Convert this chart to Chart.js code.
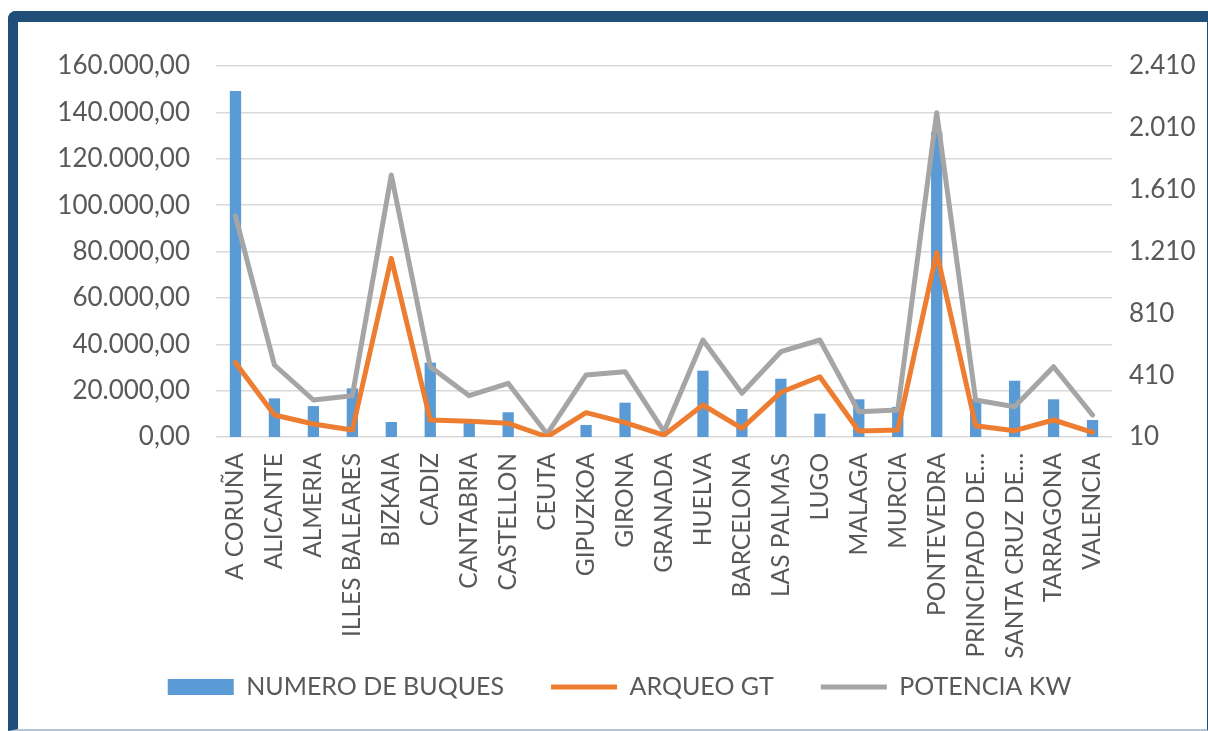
<!DOCTYPE html>
<html>
<head>
<meta charset="utf-8">
<script src="https://cdn.jsdelivr.net/npm/chart.js@4.4.1/dist/chart.umd.min.js"></script>
<style>
    html, body { margin: 0; padding: 0; background: #fff; overflow: hidden; }
    body { width: 1208px; height: 731px; position: relative; }
    #marco {
        position: absolute; left: 8px; top: 11px; width: 1200px; height: 720px;
        box-sizing: border-box;
        border-top: 11px solid #1f4e79; border-left: 10px solid #1f4e79;
        border-right: 1px solid #1f4e79; border-bottom: 2px solid #b4c5d8;
        border-top-left-radius: 8px;
    }
    #myChart { position: absolute; left: 18px; top: 22px; }
</style>
</head>
<body>
<div id="marco"></div>
<canvas id="myChart" width="1203" height="737"></canvas>
<script>
// provincias
var provincias = ['A CORUÑA', 'ALICANTE', 'ALMERIA', 'ILLES BALEARES', 'BIZKAIA', 'CADIZ', 'CANTABRIA',
    'CASTELLON', 'CEUTA', 'GIPUZKOA', 'GIRONA', 'GRANADA', 'HUELVA', 'BARCELONA', 'LAS PALMAS', 'LUGO',
    'MALAGA', 'MURCIA', 'PONTEVEDRA', 'PRINCIPADO DE…', 'SANTA CRUZ DE…', 'TARRAGONA', 'VALENCIA'];

// eje derecho
var numeroBuques = [2248, 260, 210, 325, 107, 491, 125, 170, 10, 88, 232, 10, 439, 191, 387, 161,
    254, 205, 1983, 255, 374, 254, 120];

// eje izquierdo
var arqueoGT = [32050, 9490, 5600, 3000, 77060, 7330, 6760, 5900, 100, 10480, 6170, 800, 13800, 3750,
    19280, 26000, 2590, 3020, 79500, 4870, 2720, 7330, 2030];
var potenciaKW = [95300, 31050, 15960, 17810, 113000, 30320, 17810, 23160, 1300, 26740, 28160, 2300,
    41830, 18850, 36790, 41830, 10910, 11640, 139860, 15960, 13070, 30320, 9490];

var ticksIzq = { min: 0, max: 160000, step: 20000 };
var ticksDer = { min: 10, max: 2410, step: 400 };

function puntos(n) {
    return String(Math.round(n)).replace(/\B(?=(\d{3})+(?!\d))/g, '.');
}

var gris = '#595959';
var fuente = 'Lato, "Open Sans", sans-serif';

// que no se corten las etiquetas largas del eje x
var sinRecorte = {
    id: 'sinRecorte',
    beforeDraw: function (chart) {
        chart.scales.x._computeLabelArea = function () { return undefined; };
    }
};

var ctx = document.getElementById('myChart').getContext('2d');
var myChart = new Chart(ctx, {
    type: 'bar',
    data: {
        labels: provincias,
        datasets: [{
            label: 'NUMERO DE BUQUES',
            data: numeroBuques,
            yAxisID: 'y1',
            backgroundColor: '#5b9bd5',
            borderWidth: 0,
            barPercentage: 0.29,
            categoryPercentage: 1,
            pointStyle: 'rect',
            order: 3
        }, {
            type: 'line',
            label: 'ARQUEO GT',
            data: arqueoGT,
            yAxisID: 'y',
            borderColor: '#ed7d31',
            backgroundColor: '#ed7d31',
            borderWidth: 5,
            borderJoinStyle: 'round',
            borderCapStyle: 'round',
            pointRadius: 0,
            pointStyle: 'line',
            tension: 0,
            order: 1
        }, {
            type: 'line',
            label: 'POTENCIA KW',
            data: potenciaKW,
            yAxisID: 'y',
            borderColor: '#a5a5a5',
            backgroundColor: '#a5a5a5',
            borderWidth: 5,
            borderJoinStyle: 'round',
            borderCapStyle: 'round',
            pointRadius: 0,
            pointStyle: 'line',
            tension: 0,
            order: 2
        }]
    },
    options: {
        responsive: false,
        animation: false,
        layout: { padding: { top: 44, left: 0, right: 0, bottom: 49.5 } },
        plugins: {
            tooltip: { enabled: false },
            legend: {
                position: 'bottom',
                labels: {
                    usePointStyle: true,
                    pointStyleWidth: 66,
                    boxHeight: 16,
                    padding: 47,
                    color: gris,
                    font: { family: fuente, size: 25 },
                    sort: function (a, b) { return a.datasetIndex - b.datasetIndex; }
                }
            }
        },
        scales: {
            x: {
                offset: true,
                grid: { display: false, drawTicks: false },
                border: { display: false },
                ticks: {
                    autoSkip: false,
                    maxTicksLimit: 100,
                    minRotation: 90,
                    maxRotation: 90,
                    padding: 16,
                    color: gris,
                    font: { family: fuente, size: 24.5 }
                },
                afterFit: function (scale) { scale.height = 190.5; }
            },
            y: {
                position: 'left',
                min: ticksIzq.min,
                max: ticksIzq.max,
                ticks: {
                    stepSize: ticksIzq.step,
                    padding: 26,
                    color: gris,
                    font: { family: fuente, size: 26 },
                    callback: function (v) { return puntos(v) + ',00'; }
                },
                grid: { color: '#d9d9d9', lineWidth: 1.5, drawTicks: false },
                border: { display: false },
                afterFit: function (scale) { scale.width = 198; }
            },
            y1: {
                position: 'right',
                min: ticksDer.min,
                max: ticksDer.max,
                ticks: {
                    stepSize: ticksDer.step,
                    padding: 17,
                    color: gris,
                    font: { family: fuente, size: 26 },
                    callback: function (v) { return puntos(v); }
                },
                grid: { display: false, drawTicks: false },
                border: { display: false },
                afterFit: function (scale) { scale.width = 109; }
            }
        }
    },
    plugins: [sinRecorte]
});
</script>
</body>
</html>
